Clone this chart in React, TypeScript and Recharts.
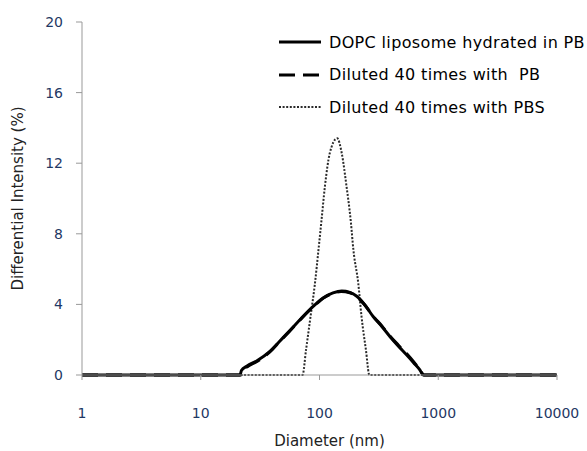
import { LineChart, Line, XAxis, YAxis, Legend } from "recharts";

// Size distribution (DLS), x on a log scale
const xTicks = [1, 10, 100, 1000, 10000];
const yTicks = [0, 4, 8, 12, 16, 20];

const seriesNames = [
  "DOPC liposome hydrated in PB",
  "Diluted 40 times with  PB",
  "Diluted 40 times with PBS",
];

const hydratedDiameter = [1, 2, 5, 10, 15, 21.4, 22, 24.4, 30, 38, 46, 56, 70, 88, 108, 130, 154, 180, 206, 240, 284, 335, 393, 460, 543, 620, 702, 748, 1000, 3000, 10000];
const hydratedIntensity = [0, 0, 0, 0, 0, 0, 0.25, 0.5, 0.82, 1.32, 1.9, 2.5, 3.2, 3.87, 4.38, 4.65, 4.76, 4.68, 4.46, 3.98, 3.3, 2.75, 2.17, 1.65, 1.13, 0.7, 0.28, 0, 0, 0, 0];

const dilutedPbDiameter = [1, 2, 5, 10, 15, 21.8, 23, 25, 30, 38, 46, 56, 70, 88, 108, 130, 152, 180, 206, 240, 284, 335, 393, 460, 543, 620, 700, 760, 1000, 3000, 10000];
const dilutedPbIntensity = [0, 0, 0, 0, 0, 0, 0.3, 0.5, 0.78, 1.3, 1.88, 2.48, 3.18, 3.85, 4.36, 4.63, 4.73, 4.66, 4.44, 3.98, 3.32, 2.78, 2.2, 1.7, 1.2, 0.75, 0.3, 0, 0, 0, 0];

const dilutedPbsDiameter = [1, 10, 50, 72, 77, 84, 91.6, 98, 104, 111, 122, 141, 154, 169, 183, 193, 212, 226, 246, 263, 1000, 10000];
const dilutedPbsIntensity = [0, 0, 0, 0, 1.42, 3.3, 5.2, 7.08, 8.78, 10.67, 12.56, 13.41, 12.56, 10.67, 8.78, 7.08, 5.2, 3.3, 1.42, 0, 0, 0];

const zip = (xs: number[], ys: number[]) => xs.map((x, i) => ({ x, y: ys[i] }));

const hydrated = zip(hydratedDiameter, hydratedIntensity);
const dilutedPb = zip(dilutedPbDiameter, dilutedPbIntensity);
const dilutedPbs = zip(dilutedPbsDiameter, dilutedPbsIntensity);

const styles = [
  { stroke: "#000", width: 3, dash: undefined as string | undefined },
  { stroke: "#000", width: 3, dash: "16 8" },
  { stroke: "#2a2a2a", width: 2, dash: "2 1.6" },
];

const FONT = "'DejaVu Sans', sans-serif";

function LegendBox() {
  return (
    <div style={{ fontFamily: FONT, fontSize: 16, letterSpacing: 0.35, color: "#000" }}>
      {seriesNames.map((name, i) => (
        <div key={name} style={{ display: "flex", alignItems: "center", height: 32.6 }}>
          <svg width={44} height={6} style={{ marginRight: 6, flexShrink: 0 }}>
            <line
              x1={0}
              y1={3}
              x2={42}
              y2={3}
              stroke={styles[i].stroke}
              strokeWidth={styles[i].width}
              strokeDasharray={styles[i].dash}
            />
          </svg>
          <span style={{ whiteSpace: "pre" }}>{name}</span>
        </div>
      ))}
    </div>
  );
}

export default function App() {
  return (
    <div style={{ position: "absolute", left: 0, top: 0, background: "#fff" }}>
      <LineChart width={587} height={451} margin={{ top: 22, right: 30, bottom: 0, left: 0 }}>
        <XAxis
          dataKey="x"
          type="number"
          scale="log"
          domain={[1, 10000]}
          ticks={xTicks}
          allowDataOverflow
          height={76}
          stroke="#999"
          tickSize={5}
          tickMargin={28}
          tick={{ fill: "#1f3864", fontSize: 14, fontFamily: FONT }}
          label={{
            value: "Diameter (nm)",
            position: "insideBottom",
            offset: 5,
            dx: 10,
            style: { fill: "#222", fontSize: 15, fontFamily: FONT },
          }}
        />
        <YAxis
          type="number"
          domain={[0, 20]}
          ticks={yTicks}
          width={82}
          stroke="#999"
          tickSize={6}
          tickMargin={13}
          tick={{ fill: "#1f3864", fontSize: 14, fontFamily: FONT }}
          label={{
            value: "Differential Intensity (%)",
            angle: -90,
            position: "insideLeft",
            offset: 18,
            style: { fill: "#222", fontSize: 15, fontFamily: FONT, textAnchor: "middle" },
          }}
        />
        <Legend
          layout="horizontal"
          verticalAlign="middle"
          align="center"
          content={() => <LegendBox />}
          wrapperStyle={{ left: 279, top: 26, width: 308, right: "auto", bottom: "auto" }}
        />
        <Line data={dilutedPbs} dataKey="y" name={seriesNames[2]} type="monotone" stroke={styles[2].stroke} strokeWidth={styles[2].width} strokeDasharray={styles[2].dash} dot={false} isAnimationActive={false} />
        <Line data={dilutedPb} dataKey="y" name={seriesNames[1]} type="monotone" stroke={styles[1].stroke} strokeWidth={styles[1].width} strokeDasharray={styles[1].dash} dot={false} isAnimationActive={false} />
        <Line data={hydrated} dataKey="y" name={seriesNames[0]} type="monotone" stroke={styles[0].stroke} strokeWidth={styles[0].width} dot={false} isAnimationActive={false} />
      </LineChart>
    </div>
  );
}
